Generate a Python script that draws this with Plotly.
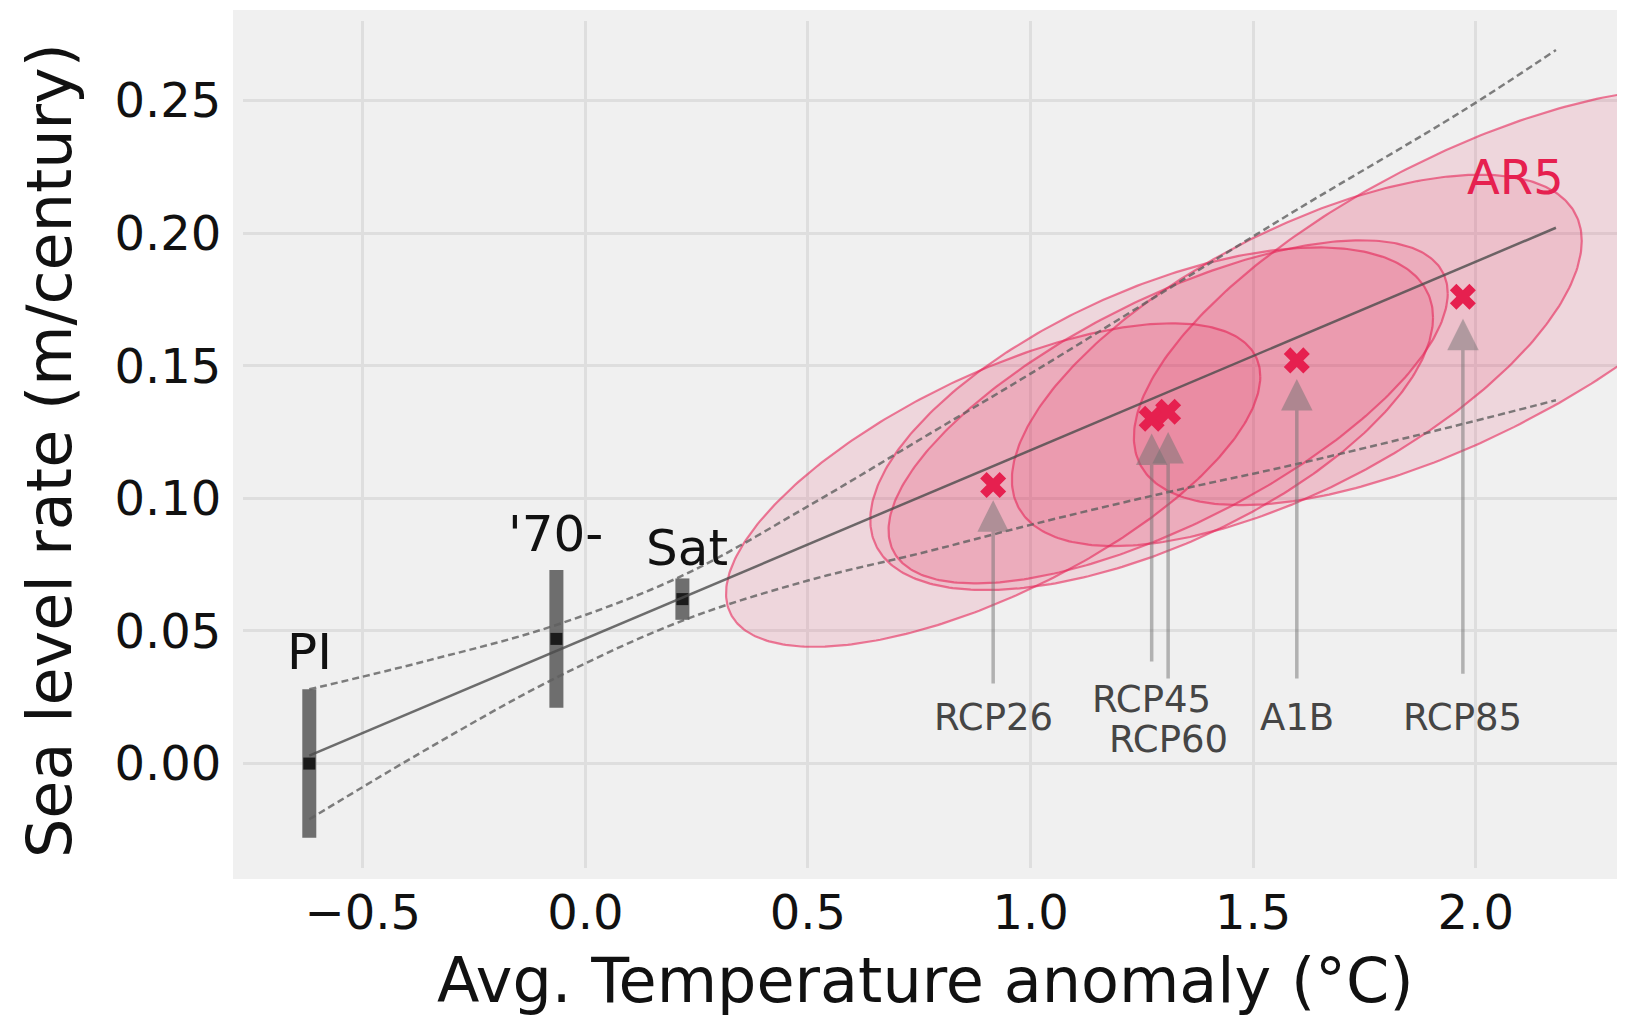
import numpy as np
import plotly.graph_objects as go

# ---------------- data ----------------
# observational estimates (points with vertical error bars)
obs_names = ["PI", "'70-", "Sat"]
obs_temp = [-0.62, -0.065, 0.218]
obs_rate = [0.0, 0.047, 0.062]
obs_err = [0.028, 0.026, 0.0078]
obs_label_temp = [-0.62, -0.067, 0.228]
obs_label_rate = [0.042, 0.0866, 0.0811]

# fitted line
fit_temp = [-0.62, 2.18]
fit_rate = [0.003, 0.202]

# confidence band (dashed)
band_temp = [-0.62, -0.35, -0.07, 0.22, 0.5, 0.77, 1.0, 1.3, 1.6, 1.97, 2.18]
band_upper = [0.028, 0.039, 0.052, 0.071, 0.097, 0.124, 0.147, 0.178, 0.209, 0.246, 0.269]
band_lower = [-0.021, 0.006, 0.032, 0.054, 0.069, 0.080, 0.090, 0.102, 0.113, 0.128, 0.137]

# AR5 scenarios: median and uncertainty ellipse (half ranges + correlation)
scen_names = ["RCP26", "RCP45", "RCP60", "A1B", "RCP85"]
scen_temp = [0.916, 1.272, 1.309, 1.598, 1.971]
scen_rate = [0.105, 0.130, 0.1326, 0.152, 0.176]
scen_temp_half = [0.60, 0.632, 0.628, 0.64, 0.739]
scen_rate_half = [0.061, 0.0646, 0.0647, 0.070, 0.0786]
scen_corr = [0.67, 0.59, 0.69, 0.643, 0.674]

# arrow tails / tips and label positions
arrow_tail_rate = [0.0296, 0.0379, 0.0315, 0.0315, 0.0333]
arrow_tip_rate = [0.0993, 0.1244, 0.125, 0.145, 0.1677]
label_rate = [0.0173, 0.0243, 0.0089, 0.0173, 0.0173]

ar5_label = "AR5"
ar5_label_pos = [2.089, 0.2211]

xticks = [-0.5, 0.0, 0.5, 1.0, 1.5, 2.0]
yticks = [0.0, 0.05, 0.10, 0.15, 0.20, 0.25]

# ---------------- styling ----------------
FONT = "DejaVu Sans"
CRIMSON = "#e6204f"
OFF = 8                       # browser body margin
W_PX, H_PX = 1625 - OFF, 1019 - OFF
ML, MR, MT, MB = 243 - OFF, 7, 21 - OFF, 151
pw = W_PX - ML - MR
ph = H_PX - MT - MB


def px_to_paper_x(px):
    return (px - OFF - ML) / pw


def px_to_paper_y(py):
    return (H_PX - MB - (py - OFF)) / ph


fig = go.Figure()

# ellipses
t = np.linspace(0, 2 * np.pi, 361)
for i in range(len(scen_names)):
    r = scen_corr[i]
    ex = scen_temp[i] + scen_temp_half[i] * np.cos(t)
    ey = scen_rate[i] + scen_rate_half[i] * (r * np.cos(t) + np.sqrt(1 - r * r) * np.sin(t))
    fig.add_trace(go.Scatter(
        x=ex, y=ey, mode="lines", fill="toself",
        fillcolor="rgba(230,32,79,0.12)",
        line=dict(color="rgba(230,40,90,0.6)", width=2.2),
        hoverinfo="skip", showlegend=False))

# error bars + points
fig.add_trace(go.Scatter(
    x=obs_temp, y=obs_rate, mode="markers",
    marker=dict(symbol="square", size=12, color="#1b1b1b"),
    error_y=dict(type="data", array=obs_err, thickness=14, width=0,
                 color="rgba(95,95,95,0.9)"),
    showlegend=False))

# confidence band
for yy in (band_upper, band_lower):
    fig.add_trace(go.Scatter(
        x=band_temp, y=yy, mode="lines",
        line=dict(color="rgba(95,95,95,0.8)", width=2.5, dash="7px,4px", shape="spline"),
        showlegend=False))

# fitted line
fig.add_trace(go.Scatter(
    x=fit_temp, y=fit_rate, mode="lines",
    line=dict(color="rgba(75,75,75,0.8)", width=2.5),
    showlegend=False))

# scenario medians
fig.add_trace(go.Scatter(
    x=scen_temp, y=scen_rate, mode="markers",
    marker=dict(symbol="x", size=23, color=CRIMSON, line=dict(width=0)),
    showlegend=False))

annotations = []
for i, nm in enumerate(scen_names):
    annotations.append(dict(
        x=scen_temp[i], y=arrow_tip_rate[i], ax=scen_temp[i], ay=arrow_tail_rate[i],
        xref="x", yref="y", axref="x", ayref="y", text="", showarrow=True,
        arrowhead=2, arrowsize=1.8, arrowwidth=3.5, standoff=0,
        arrowcolor="rgba(115,115,115,0.5)"))
    annotations.append(dict(
        x=scen_temp[i], y=label_rate[i], xref="x", yref="y", text=nm,
        showarrow=False, font=dict(family=FONT, size=37, color="#454545"),
        xanchor="center", yanchor="middle"))

for i, nm in enumerate(obs_names):
    annotations.append(dict(
        x=obs_label_temp[i], y=obs_label_rate[i], xref="x", yref="y", text=nm,
        showarrow=False, font=dict(family=FONT, size=50, color="#111111"),
        xanchor="center", yanchor="middle"))

annotations.append(dict(
    x=ar5_label_pos[0], y=ar5_label_pos[1], xref="x", yref="y", text=ar5_label,
    showarrow=False, font=dict(family=FONT, size=48, color=CRIMSON),
    xanchor="center", yanchor="middle"))

annotations.append(dict(
    x=px_to_paper_x(925), y=px_to_paper_y(980), xref="paper", yref="paper",
    text="Avg. Temperature anomaly (°C)", showarrow=False,
    font=dict(family=FONT, size=62, color="#111111"),
    xanchor="center", yanchor="middle"))
annotations.append(dict(
    x=px_to_paper_x(50), y=px_to_paper_y(451), xref="paper", yref="paper",
    text="Sea level rate (m/century)", showarrow=False, textangle=-90,
    font=dict(family=FONT, size=62, color="#111111"),
    xanchor="center", yanchor="middle"))

shapes = [dict(
    type="rect", xref="paper", yref="paper", layer="below",
    x0=px_to_paper_x(233), x1=px_to_paper_x(1625),
    y0=px_to_paper_y(879), y1=px_to_paper_y(10),
    fillcolor="#f0f0f0", line=dict(width=0))]

fig.update_layout(
    width=W_PX, height=H_PX,
    margin=dict(l=ML, r=MR, t=MT, b=MB, pad=0),
    paper_bgcolor="white", plot_bgcolor="#f0f0f0",
    showlegend=False,
    annotations=annotations, shapes=shapes,
    font=dict(family=FONT, color="#111111"),
)
fig.update_xaxes(
    range=[-0.7689, 2.3194], tickvals=xticks, tickformat=".1f",
    showgrid=True, gridcolor="#dedede", gridwidth=2.5, zeroline=False,
    showline=False, ticks="outside", ticklen=2, tickcolor="rgba(0,0,0,0)",
    tickfont=dict(family=FONT, size=48, color="#111111"))
fig.update_yaxes(
    range=[-0.03937, 0.27995], tickvals=yticks, tickformat=".2f",
    showgrid=True, gridcolor="#dedede", gridwidth=2.5, zeroline=False,
    showline=False, ticks="outside", ticklen=11, tickcolor="rgba(0,0,0,0)",
    tickfont=dict(family=FONT, size=48, color="#111111"))

fig.write_html("out.html")
